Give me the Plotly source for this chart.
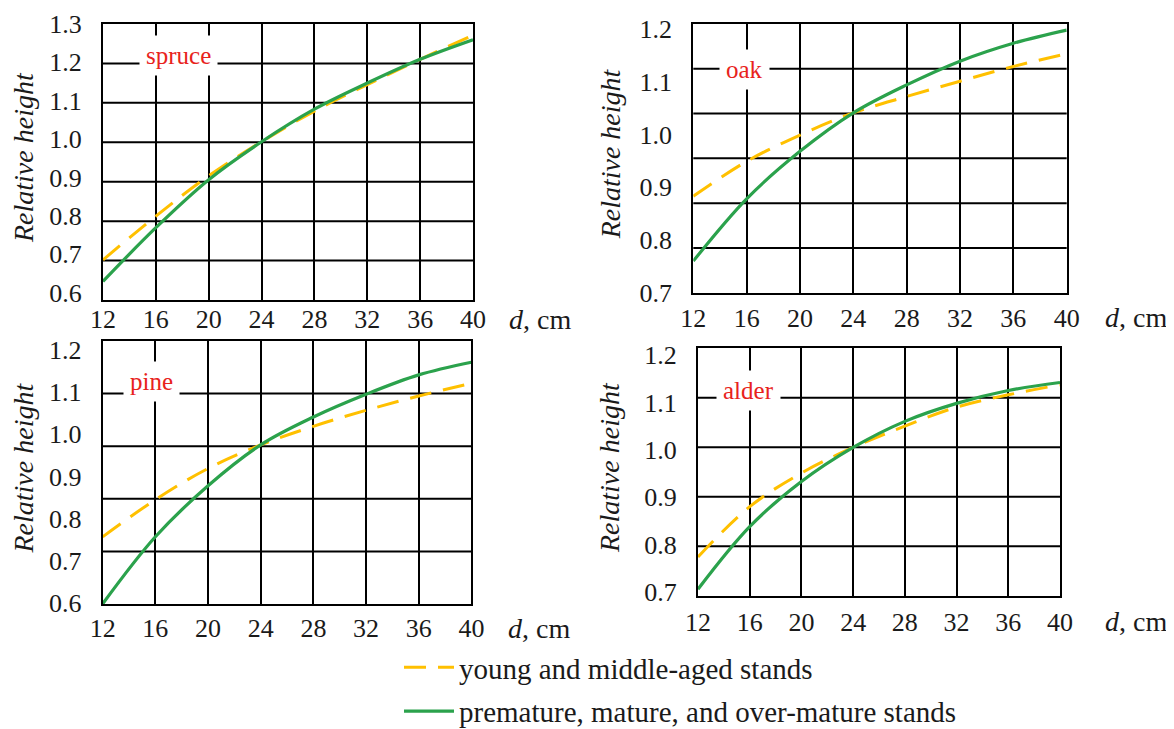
import plotly.graph_objects as go

# ---------------- data ----------------
d_cm = [12, 16, 20, 24, 28, 32, 36, 40]
x_ticks = [12, 16, 20, 24, 28, 32, 36, 40]

spruce_young = [0.685, 0.799, 0.904, 0.993, 1.073, 1.142, 1.208, 1.271]
spruce_mature = [0.629, 0.769, 0.894, 0.993, 1.078, 1.146, 1.208, 1.259]

oak_young = [0.883, 0.949, 0.999, 1.041, 1.072, 1.101, 1.129, 1.153]
oak_mature = [0.760, 0.878, 0.968, 1.041, 1.094, 1.139, 1.173, 1.198]

pine_young = [0.757, 0.845, 0.919, 0.975, 1.019, 1.057, 1.091, 1.121]
pine_mature = [0.598, 0.757, 0.878, 0.975, 1.041, 1.095, 1.141, 1.171]

alder_young = [0.774, 0.880, 0.951, 1.005, 1.050, 1.090, 1.116, 1.137]
alder_mature = [0.706, 0.838, 0.933, 1.005, 1.060, 1.098, 1.125, 1.142]

species = ["spruce", "oak", "pine", "alder"]
young_series = [spruce_young, oak_young, pine_young, alder_young]
mature_series = [spruce_mature, oak_mature, pine_mature, alder_mature]
y_label_ends = [(1.3, 0.6), (1.2, 0.7), (1.2, 0.6), (1.2, 0.7)]
grid_rows = [7, 6, 5, 5]

legend_names = ["young and middle-aged stands",
                "premature, mature, and over-mature stands"]

# ---------------- layout / style ----------------
PAGE_W, PAGE_H = 1174, 729
OFF = 8                      # default page body margin
W, H = PAGE_W - OFF, PAGE_H - OFF
FONT = "Liberation Serif"
YELLOW = "#FFC000"
GREEN = "#2BA24C"
INK = "#1a1a1a"

# panel boxes in page pixels: left, right, top, bottom
boxes = [(103.0, 473.0, 24.0, 300.0),
         (693.3, 1066.7, 24.0, 292.7),
         (102.7, 471.4, 341.0, 604.0),
         (698.0, 1060.0, 348.3, 595.7)]
# page-pixel centres of the top and bottom tick labels
label_px = [(24.0, 292.5), (29.0, 292.7), (350.0, 603.0), (355.0, 592.0)]
title_x = [23, 610, 23, 609]
spec_pos = [(178, 56), (744, 70), (151, 381), (748, 390)]
dcm_shift = [34, 36, 35, 43]
xlab_drop = [19, 25, 24, 26]          # tick-label centre below the box
xlab_standoff = [-5, 1, 0, 2]


def px(x):
    return (x - OFF) / W


def py(y):
    return 1 - (y - OFF) / H


fig = go.Figure()
layout = dict(
    width=W, height=H,
    margin=dict(l=0, r=0, t=0, b=0, autoexpand=False),
    paper_bgcolor="white", plot_bgcolor="white",
    font=dict(family=FONT, size=24, color=INK),
    showlegend=True,
)
annotations = []
shapes = []

for i in range(4):
    n = i + 1
    xa = "x" if n == 1 else f"x{n}"
    ya = "y" if n == 1 else f"y{n}"
    l, r, t, b = boxes[i]
    vt, vb = y_label_ends[i]
    pt, pb = label_px[i]
    per = (pb - pt) / (vt - vb)
    yr = [vb - (b - pb) / per - 1e-6, vt + (pt - t) / per + 1e-6]

    layout[f"xaxis{n}"] = dict(
        domain=[px(l), px(r)], anchor=ya, range=[12, 40],
        tickvals=x_ticks, showgrid=True, gridcolor="black", gridwidth=2,
        showline=True, linecolor="black", linewidth=2, mirror=True,
        ticks="", zeroline=False, ticklabelstandoff=xlab_standoff[i],
        tickfont=dict(family=FONT, size=26, color=INK), fixedrange=True,
    )
    layout[f"yaxis{n}"] = dict(
        domain=[py(b), py(t)], anchor=xa, range=yr, tick0=vb, dtick=0.1,
        tickformat=".1f", showgrid=False,
        showline=True, linecolor="black", linewidth=2, mirror=True,
        ticks="", zeroline=False, ticklabelstandoff=14,
        tickfont=dict(family=FONT, size=26, color=INK), fixedrange=True,
    )
    # horizontal grid rows drawn independently (as in the original drawing)
    for k in range(1, grid_rows[i]):
        shapes.append(dict(
            type="line", xref=f"{xa} domain", yref=f"{ya} domain",
            x0=0, x1=1, y0=k / grid_rows[i], y1=k / grid_rows[i],
            line=dict(color="black", width=2), layer="below"))

    fig.add_trace(go.Scatter(
        x=d_cm, y=young_series[i], xaxis=xa, yaxis=ya, mode="lines",
        line=dict(color=YELLOW, width=3, dash="22px,12px", shape="spline"),
        name=legend_names[0], legendgroup="a", showlegend=(i == 0),
        hoverinfo="skip"))
    fig.add_trace(go.Scatter(
        x=d_cm, y=mature_series[i], xaxis=xa, yaxis=ya, mode="lines",
        line=dict(color=GREEN, width=3.2, shape="spline"),
        name=legend_names[1], legendgroup="b", showlegend=(i == 0),
        hoverinfo="skip"))

    # axis titles
    annotations.append(dict(
        x=px(title_x[i]), y=py((t + b) / 2 - 4), xref="paper", yref="paper",
        text="<i>Relative height</i>", textangle=-90, showarrow=False,
        font=dict(family=FONT, size=28, color=INK),
        xanchor="center", yanchor="middle"))
    annotations.append(dict(
        x=1, xref=f"{xa} domain", y=0, yref=f"{ya} domain",
        text="<i>d</i>, cm", showarrow=False, xanchor="left", yanchor="middle",
        xshift=dcm_shift[i], yshift=-xlab_drop[i],
        font=dict(family=FONT, size=28, color=INK)))
    sx, sy = spec_pos[i]
    annotations.append(dict(
        x=px(sx), y=py(sy), xref="paper", yref="paper", text=species[i],
        showarrow=False, bgcolor="white", borderpad=6,
        font=dict(family=FONT, size=25, color="#E8231C"),
        xanchor="center", yanchor="middle"))

layout["annotations"] = annotations
layout["shapes"] = shapes
layout["legend"] = dict(
    x=px(399), y=py(642), xanchor="left", yanchor="top",
    font=dict(family=FONT, size=29, color=INK),
    tracegroupgap=3, bgcolor="rgba(0,0,0,0)", itemwidth=50,
)
fig.update_layout(**layout)
fig.write_html("out.html")
